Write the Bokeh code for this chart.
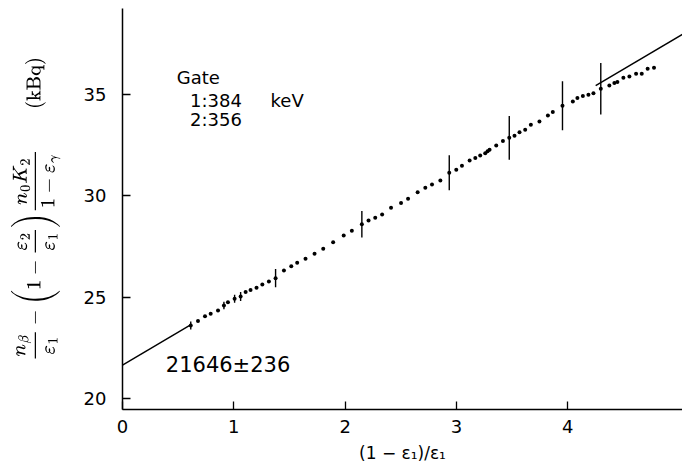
from bokeh.plotting import figure
from bokeh.models import Range1d, FixedTicker, Label
from bokeh.embed import file_html
from bokeh.resources import INLINE

# ---- data ----
x_ticks = [0, 1, 2, 3, 4]
y_ticks = [20, 25, 30, 35]

pts_x = [0.613, 0.678, 0.741, 0.792, 0.858, 0.911, 0.947, 1.007, 1.061, 1.106,
         1.150, 1.204, 1.256, 1.315, 1.375, 1.450, 1.516, 1.569, 1.644, 1.725,
         1.803, 1.892, 1.987, 2.060, 2.150, 2.210, 2.270, 2.332, 2.412, 2.502,
         2.565, 2.651, 2.720, 2.780, 2.855, 2.935, 2.998, 3.049, 3.118, 3.169,
         3.213, 3.258, 3.279, 3.297, 3.357, 3.417, 3.474, 3.521, 3.566, 3.617,
         3.668, 3.745, 3.821, 3.865, 3.952, 4.045, 4.086, 4.135, 4.185, 4.230,
         4.296, 4.373, 4.418, 4.445, 4.499, 4.553, 4.613, 4.664, 4.717, 4.774]
pts_y = [23.60, 23.82, 24.06, 24.18, 24.34, 24.59, 24.75, 24.92, 25.03, 25.25,
         25.36, 25.46, 25.63, 25.77, 25.94, 26.32, 26.53, 26.70, 26.89, 27.14,
         27.39, 27.71, 28.04, 28.28, 28.60, 28.78, 28.92, 29.08, 29.41, 29.64,
         29.85, 30.18, 30.40, 30.56, 30.76, 31.14, 31.28, 31.48, 31.74, 31.86,
         31.99, 32.10, 32.20, 32.27, 32.48, 32.70, 32.86, 32.96, 33.14, 33.26,
         33.50, 33.67, 33.96, 34.13, 34.44, 34.65, 34.82, 34.92, 34.98, 35.06,
         35.28, 35.44, 35.56, 35.61, 35.82, 35.89, 36.02, 36.02, 36.27, 36.32]

err_x = [0.613, 0.911, 1.007, 1.061, 1.375, 2.150, 2.935, 3.474, 3.952, 4.296]
err_y = [23.60, 24.59, 24.92, 25.03, 25.94, 28.60, 31.14, 32.86, 34.44, 35.28]
err_e = [0.20, 0.18, 0.20, 0.22, 0.45, 0.65, 0.86, 1.08, 1.21, 1.27]

fit_intercept = 21.646
fit_slope = 3.245
fit_segments_x = [[0.0, 0.60], [4.25, 5.03]]

gate_lines = ["Gate", "1:384", "2:356"]
unit_text = "keV"
intercept_text = "21646\u00b1236"

FONT = "DejaVu Sans"

p = figure(width=682, height=470, output_backend="svg", toolbar_location=None,
           x_range=Range1d(0, 5.03), y_range=Range1d(19.46, 39.24),
           min_border_left=122, min_border_right=0, min_border_top=8,
           min_border_bottom=61)
p.outline_line_color = None
p.grid.visible = False
p.background_fill_color = "white"
p.border_fill_color = "white"

for ax in (p.xaxis[0], p.yaxis[0]):
    ax.axis_line_color = "black"
    ax.axis_line_width = 1.5
    ax.major_tick_line_color = "black"
    ax.major_tick_line_width = 1.3
    ax.major_tick_in = 8
    ax.major_tick_out = 0
    ax.minor_tick_line_color = None
    ax.major_label_text_font = FONT
    ax.major_label_text_font_size = "18px"
    ax.major_label_text_color = "black"
    ax.axis_label_text_font = FONT
    ax.axis_label_text_font_style = "normal"
    ax.axis_label_text_color = "black"

p.xaxis.ticker = FixedTicker(ticks=x_ticks)
p.yaxis.ticker = FixedTicker(ticks=y_ticks)
p.xaxis.major_label_standoff = 10
p.yaxis.major_label_standoff = 16
p.xaxis.axis_label = "(1 \u2212 \u03b5\u2081)/\u03b5\u2081"
p.xaxis.axis_label_text_font_size = "17px"
p.xaxis.axis_label_standoff = 7
p.yaxis.axis_label = (r"$$\frac{n_\beta}{\varepsilon_1} - \left(1 - \frac{\varepsilon_2}{\varepsilon_1}\right)"
                      r"\frac{n_0 K_2}{1 - \varepsilon_\gamma}\qquad\text{(kBq)}$$")
p.yaxis.axis_label_text_font_size = "16px"
p.yaxis.axis_label_standoff = 20

# fit line (extrapolated parts)
for seg in fit_segments_x:
    p.line(seg, [fit_intercept + fit_slope * v for v in seg],
           line_color="black", line_width=1.4)

# error bars
lo = [y - e for y, e in zip(err_y, err_e)]
hi = [y + e for y, e in zip(err_y, err_e)]
p.segment(x0=err_x, y0=lo, x1=err_x, y1=hi, line_color="black", line_width=1.4)

# data points
p.scatter(pts_x, pts_y, size=4, color="black", line_width=0)

# annotations
p.add_layout(Label(x=0.487, y=35.85, text=gate_lines[0], text_font=FONT,
                   text_font_size="18px", text_baseline="middle", text_color="black"))
p.add_layout(Label(x=0.606, y=34.70, text=gate_lines[1], text_font=FONT,
                   text_font_size="18px", text_baseline="middle", text_color="black"))
p.add_layout(Label(x=1.33, y=34.70, text=unit_text, text_font=FONT,
                   text_font_size="18px", text_baseline="middle", text_color="black"))
p.add_layout(Label(x=0.606, y=33.78, text=gate_lines[2], text_font=FONT,
                   text_font_size="18px", text_baseline="middle", text_color="black"))
p.add_layout(Label(x=0.389, y=21.67, text=intercept_text, text_font=FONT,
                   text_font_size="21px", text_baseline="middle", text_color="black"))

open("out.html", "w").write(file_html(p, INLINE))
